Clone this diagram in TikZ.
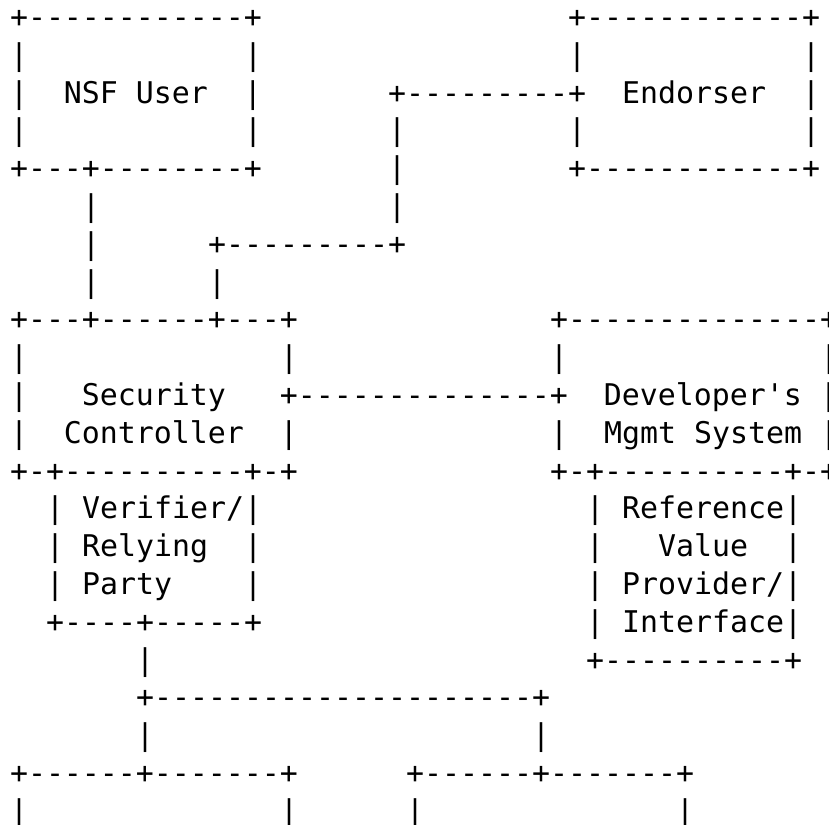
\documentclass[tikz,border=0pt]{standalone}
\usepackage{fontspec}
\setmonofont{DejaVu Sans Mono}
\newcommand\sk[1]{\kern#1\fontcharwd\font`\x\relax}
\tikzset{
  asciirow/.style={anchor=base west, inner sep=0pt, outer sep=0pt,
    font=\ttfamily\fontsize{29.9pt}{37.8pt}\selectfont, text=black}
}
\begin{document}
\begin{tikzpicture}[x=1pt,y=1pt]
\fill[white] (0,0) rectangle (829,-824);
\useasboundingbox (0,0) rectangle (829,-824);
\clip (0,0) rectangle (829,-824);
\node[asciirow] (l0)  at (10,-27.5) {+------------+\sk{17}+------------+};
\node[asciirow] (l1)  at (10,-65.3) {|\sk{12}|\sk{17}|\sk{12}|};
\node[asciirow] (l2)  at (10,-103.1) {|\sk{2}NSF User\sk{2}|\sk{7}+---------+\sk{2}Endorser\sk{2}|};
\node[asciirow] (l3)  at (10,-140.9) {|\sk{12}|\sk{7}|\sk{9}|\sk{12}|};
\node[asciirow] (l4)  at (10,-178.7) {+---+--------+\sk{7}|\sk{9}+------------+};
\node[asciirow] (l5)  at (10,-216.5) {\sk{4}|\sk{16}|};
\node[asciirow] (l6)  at (10,-254.3) {\sk{4}|\sk{6}+---------+};
\node[asciirow] (l7)  at (10,-292.1) {\sk{4}|\sk{6}|};
\node[asciirow] (l8)  at (10,-329.9) {+---+------+---+\sk{14}+--------------+};
\node[asciirow] (l9)  at (10,-367.7) {|\sk{14}|\sk{14}|\sk{14}|};
\node[asciirow] (l10) at (10,-405.5) {|\sk{3}Security\sk{3}+--------------+\sk{2}Developer's\sk{1}|};
\node[asciirow] (l11) at (10,-443.3) {|\sk{2}Controller\sk{2}|\sk{14}|\sk{2}Mgmt System\sk{1}|};
\node[asciirow] (l12) at (10,-481.1) {+-+----------+-+\sk{14}+-+----------+-+};
\node[asciirow] (l13) at (10,-518.9) {\sk{2}|\sk{1}Verifier/|\sk{18}|\sk{1}Reference|};
\node[asciirow] (l14) at (10,-556.7) {\sk{2}|\sk{1}Relying\sk{2}|\sk{18}|\sk{3}Value\sk{2}|};
\node[asciirow] (l15) at (10,-594.5) {\sk{2}|\sk{1}Party\sk{4}|\sk{18}|\sk{1}Provider/|};
\node[asciirow] (l16) at (10,-632.3) {\sk{2}+----+-----+\sk{18}|\sk{1}Interface|};
\node[asciirow] (l17) at (10,-670.1) {\sk{7}|\sk{24}+----------+};
\node[asciirow] (l18) at (10,-707.9) {\sk{7}+---------------------+};
\node[asciirow] (l19) at (10,-745.7) {\sk{7}|\sk{21}|};
\node[asciirow] (l20) at (10,-783.5) {+------+-------+\sk{6}+------+-------+};
\node[asciirow] (l21) at (10,-821.3) {|\sk{14}|\sk{6}|\sk{14}|};
\end{tikzpicture}
\end{document}
